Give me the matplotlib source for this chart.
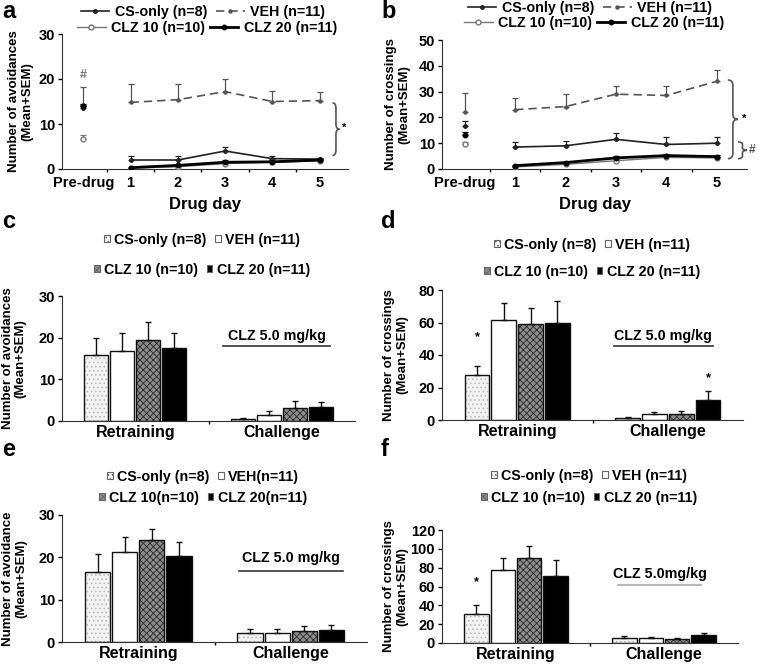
#importing dependencies
import numpy as np
import matplotlib.pyplot as plt
from matplotlib.path import Path
from matplotlib.patches import PathPatch, Patch
from matplotlib.lines import Line2D

plt.rcParams['font.family'] = ['Liberation Sans', 'DejaVu Sans']
plt.rcParams['font.weight'] = 'bold'
plt.rcParams['hatch.linewidth'] = 0.6

#Data : line panels (a, b)
day_labels = ["Pre-drug", "1", "2", "3", "4", "5"]
line_labels = ["CS-only (n=8)", "VEH (n=11)", "CLZ 10 (n=10)", "CLZ 20 (n=11)"]

a_cs = [13.5, 2.0, 2.0, 4.0, 2.3, 2.2]
a_cs_err = [0.5, 0.8, 0.8, 0.8, 0.5, 0.3]
a_veh = [14.2, 14.8, 15.4, 17.2, 15.0, 15.2]
a_veh_err = [4.0, 4.2, 3.5, 2.9, 2.4, 1.9]
a_clz10 = [6.6, 0.2, 0.5, 1.2, 1.5, 1.8]
a_clz10_err = [1.0, 0.1, 0.2, 0.3, 0.3, 0.3]
a_clz20 = [14.0, 0.3, 0.8, 1.5, 1.6, 2.0]
a_clz20_err = [0.4, 0.2, 0.2, 0.4, 0.3, 0.3]

b_cs = [16.5, 8.5, 9.0, 11.5, 9.5, 10.0]
b_cs_err = [2.0, 2.0, 2.0, 2.5, 3.0, 2.3]
b_veh = [22.0, 23.0, 24.2, 29.0, 28.5, 34.0]
b_veh_err = [7.5, 4.5, 4.8, 3.0, 3.5, 4.5]
b_clz10 = [9.8, 0.8, 1.8, 3.2, 4.5, 4.3]
b_clz10_err = [0.5, 0.3, 0.3, 0.5, 0.5, 0.5]
b_clz20 = [13.0, 1.3, 2.5, 4.3, 5.2, 4.8]
b_clz20_err = [1.5, 0.4, 0.4, 0.6, 0.5, 0.5]

#Data : bar panels (c, d, e, f)
bar_groups = ["Retraining", "Challenge"]

c_retrain = [15.8, 16.8, 19.5, 17.6]
c_retrain_err = [4.2, 4.4, 4.2, 3.6]
c_chal = [0.5, 1.4, 3.1, 3.3]
c_chal_err = [0.3, 1.0, 1.6, 1.3]

d_retrain = [27.5, 61.5, 59.0, 60.0]
d_retrain_err = [6.0, 10.5, 10.0, 13.0]
d_chal = [1.5, 3.5, 3.5, 12.5]
d_chal_err = [0.5, 1.5, 2.0, 5.5]

e_retrain = [16.6, 21.3, 24.1, 20.3]
e_retrain_err = [4.1, 3.5, 2.7, 3.3]
e_chal = [2.1, 2.1, 2.6, 2.9]
e_chal_err = [1.0, 1.0, 1.2, 1.2]

f_retrain = [31.0, 78.0, 90.0, 71.0]
f_retrain_err = [9.0, 12.0, 13.0, 17.0]
f_chal = [5.0, 5.0, 4.5, 8.0]
f_chal_err = [2.5, 1.5, 0.5, 3.0]

bar_labels_cd = ["CS-only (n=8)", "VEH (n=11)", "CLZ 10 (n=10)", "CLZ 20 (n=11)"]
bar_labels_e = ["CS-only (n=8)", "VEH(n=11)", "CLZ 10(n=10)", "CLZ 20(n=11)"]

W, H = 759, 665
fig = plt.figure(figsize=(W / 100, H / 100), dpi=100)


def box(l, t, r, b):
    return [l / W, 1 - b / H, (r - l) / W, (b - t) / H]


def brace(ax, x, y0, y1, w, h, color='#555555'):
    ym = (y0 + y1) / 2
    verts = [(x, y1), (x + w / 2, y1), (x + w / 2, y1 - h), (x + w / 2, ym + h),
             (x + w / 2, ym), (x + w, ym), (x + w / 2, ym), (x + w / 2, ym - h),
             (x + w / 2, y0 + h), (x + w / 2, y0), (x, y0)]
    codes = [Path.MOVETO, Path.CURVE3, Path.CURVE3, Path.LINETO, Path.CURVE3, Path.CURVE3,
             Path.CURVE3, Path.CURVE3, Path.LINETO, Path.CURVE3, Path.CURVE3]
    ax.add_patch(PathPatch(Path(verts, codes), fill=False, lw=1.2, ec=color, clip_on=False))


def style_axes(ax):
    ax.spines['top'].set_visible(False)
    ax.spines['right'].set_visible(False)
    ax.spines['left'].set_color('#333333')
    ax.spines['bottom'].set_color('#333333')
    ax.tick_params(axis='y', direction='out', length=3, width=1, pad=2, labelsize=10.5)
    ax.tick_params(axis='x', which='major', length=0, pad=5, labelsize=10.5)
    ax.tick_params(axis='x', which='minor', length=2, width=1)


def row_legend(handles, labels, cx, cy, **kw):
    leg = fig.legend(handles, labels, loc='center', bbox_to_anchor=(cx / W, 1 - cy / H),
                     ncol=2, frameon=False, fontsize=10.3, borderpad=0, **kw)
    return leg


#Line styles
line_styles = [
    dict(color='#222222', lw=1.2, ls='-', marker='o', ms=2.5, mfc='#222222'),
    dict(color='#555555', lw=1.2, ls=(0, (5, 3)), marker='o', ms=2.2, mfc='#555555'),
    dict(color='#777777', lw=1.0, ls='-', marker='o', ms=3.5, mfc='white'),
    dict(color='black', lw=2.0, ls='-', marker='o', ms=3.2, mfc='black'),
]


def line_panel(ax, series, errs, ymax, ystep, ylabel, labx):
    x = np.arange(len(day_labels))
    for s, e, st in zip(series, errs, line_styles):
        ax.plot(x[1:], s[1:], color=st['color'], lw=st['lw'], ls=st['ls'], marker=st['marker'],
                ms=st['ms'], mfc=st['mfc'], mec=st['color'], zorder=3)
        ax.plot(x[:1], s[:1], ls='none', marker=st['marker'], ms=st['ms'], mfc=st['mfc'],
                mec=st['color'], zorder=3)
        ax.errorbar(x, s, yerr=[np.zeros(len(e)), e], fmt='none', ecolor=st['color'],
                    elinewidth=0.9, capsize=2, capthick=0.9, zorder=2)
    ax.set_xlim(-0.45, 5.6)
    ax.set_ylim(0, ymax)
    ax.set_yticks(np.arange(0, ymax + 1, ystep))
    ax.set_xticks(x)
    ax.set_xticklabels(day_labels)
    ax.set_xticks(np.arange(0.5, 5, 1), minor=True)
    style_axes(ax)
    ax.set_xlabel("Drug day", fontsize=12, fontweight='bold', labelpad=5)
    ax.set_ylabel(ylabel, fontsize=9.5, fontweight='bold', linespacing=1.1)
    ax.yaxis.set_label_coords(labx, 0.5)


#Panel a
ax_a = fig.add_axes(box(62, 34, 348, 169))
line_panel(ax_a, [a_cs, a_veh, a_clz10, a_clz20],
           [a_cs_err, a_veh_err, a_clz10_err, a_clz20_err], 30, 10,
           "Number of avoidances\n(Mean+SEM)", -0.10)
ax_a.text(0, 20.9, "#", ha='center', va='center', fontsize=9, color='#777777')
brace(ax_a, 5.27, 3.0, 14.7, 0.15, 1.2)
ax_a.text(5.52, 9.1, "*", ha='center', va='center', fontsize=8, clip_on=False)

#Panel b
ax_b = fig.add_axes(box(442, 40, 747, 169))
line_panel(ax_b, [b_cs, b_veh, b_clz10, b_clz20],
           [b_cs_err, b_veh_err, b_clz10_err, b_clz20_err], 50, 10,
           "Number of crossings\n(Mean+SEM)", -0.105)
brace(ax_b, 5.22, 4.0, 34.5, 0.2, 2.0)
ax_b.text(5.55, 19.5, "*", ha='center', va='center', fontsize=8, clip_on=False)
brace(ax_b, 5.42, 4.0, 10.5, 0.18, 1.0)
ax_b.text(5.64, 7.2, "#", ha='left', va='center', fontsize=8.5, color='#555555', clip_on=False)

line_handles = [Line2D([], [], color=st['color'], lw=st['lw'], ls=st['ls'], marker=st['marker'],
                       ms=st['ms'], mfc=st['mfc'], mec=st['color']) for st in line_styles]
for cx, cy1, cy2 in [(203, 12, 28), (590, 8, 23)]:
    row_legend(line_handles[:2], line_labels[:2], cx, cy1, handlelength=2.0,
               handletextpad=0.4, columnspacing=0.6)
    row_legend(line_handles[2:], line_labels[2:], cx + 4, cy2, handlelength=2.0,
               handletextpad=0.4, columnspacing=0.3)

#Bar styles
bar_fc = ['#f2f2f2', 'white', '#8c8c8c', 'black']
bar_hatch = ['....', None, 'xxxxx', None]
bar_hc = ['#b8b8b8', 'white', '#2a2a2a', 'black']
spacing, width = 0.178, 0.165


def bar_panel(ax, retrain, retrain_err, chal, chal_err, ymax, ystep, ylabel, labx,
              line_y, line_x0, line_x1, text_y, clz_text, line_color='#333333'):
    centers = np.arange(len(bar_groups))
    for i in range(4):
        xs = centers + (i - 1.5) * spacing
        vals = [retrain[i], chal[i]]
        errs = [retrain_err[i], chal_err[i]]
        ax.bar(xs, vals, width, color=bar_fc[i], hatch=bar_hatch[i], edgecolor=bar_hc[i],
               lw=0, zorder=2)
        ax.bar(xs, vals, width, fill=False, edgecolor='#111111', lw=1.0, zorder=3)
        ax.errorbar(xs, vals, yerr=[[0, 0], errs], fmt='none', ecolor='#111111',
                    elinewidth=1.0, capsize=2, capthick=1.0, zorder=4)
    ax.set_xlim(-0.5, 1.5)
    ax.set_ylim(0, ymax)
    ax.set_yticks(np.arange(0, ymax + 1, ystep))
    ax.set_xticks(centers)
    ax.set_xticklabels(bar_groups)
    ax.set_xticks([0.5], minor=True)
    style_axes(ax)
    ax.tick_params(axis='x', which='major', pad=3, labelsize=11.5)
    ax.set_ylabel(ylabel, fontsize=9.5, fontweight='bold', linespacing=1.1)
    ax.yaxis.set_label_coords(labx, 0.5)
    ax.plot([line_x0, line_x1], [line_y, line_y], color=line_color, lw=1.2)
    ax.text((line_x0 + line_x1) / 2, text_y, clz_text, ha='center', va='center', fontsize=10.3)


#Panel c
ax_c = fig.add_axes(box(62, 296, 355, 421))
bar_panel(ax_c, c_retrain, c_retrain_err, c_chal, c_chal_err, 30, 10,
          "Number of avoidances\n(Mean+SEM)", -0.12, 18, 0.60, 1.33, 20.3, "CLZ 5.0 mg/kg")

#Panel d
ax_d = fig.add_axes(box(442, 290, 743, 420))
bar_panel(ax_d, d_retrain, d_retrain_err, d_chal, d_chal_err, 80, 20,
          "Number of crossings\n(Mean+SEM)", -0.113, 45.5, 0.64, 1.30, 51.5, "CLZ 5.0 mg/kg")
ax_d.text(-1.5 * spacing, 51, "*", ha='center', va='center', fontsize=9)
ax_d.text(1 + 1.5 * spacing, 25.5, "*", ha='center', va='center', fontsize=9)

#Panel e
ax_e = fig.add_axes(box(62, 515, 367, 642))
bar_panel(ax_e, e_retrain, e_retrain_err, e_chal, e_chal_err, 30, 10,
          "Number of avoidance\n(Mean+SEM)", -0.115, 16.8, 0.66, 1.34, 19.8, "CLZ 5.0 mg/kg")

#Panel f
ax_f = fig.add_axes(box(442, 530, 738, 643))
bar_panel(ax_f, f_retrain, f_retrain_err, f_chal, f_chal_err, 120, 20,
          "Number of crossings\n(Mean+SEM)", -0.115, 61.6, 0.69, 1.25, 73, "CLZ 5.0mg/kg",
          line_color='#aaaaaa')
ax_f.text(-1.5 * spacing, 65, "*", ha='center', va='center', fontsize=9)

bar_handles = [Patch(facecolor=bar_fc[i], hatch=bar_hatch[i], edgecolor='#666666', lw=0.8)
               for i in range(4)]
for labels, cx, cy1, cy2 in [(bar_labels_cd, 202, 240, 270), (bar_labels_cd, 592, 245, 272),
                             (bar_labels_e, 203, 477, 498), (bar_labels_cd, 589, 476, 498)]:
    row_legend(bar_handles[:2], labels[:2], cx, cy1, handlelength=0.4, handleheight=0.4,
               handletextpad=0.3, columnspacing=0.6)
    row_legend(bar_handles[2:], labels[2:], cx, cy2, handlelength=0.4, handleheight=0.4,
               handletextpad=0.3, columnspacing=0.6)

#Panel letters
for letter, px, py in [("a", 2, 12), ("b", 381, 12), ("c", 2, 222), ("d", 381, 222),
                       ("e", 2, 450), ("f", 381, 450)]:
    fig.text(px / W, 1 - py / H, letter, fontsize=17, fontweight='bold', ha='left', va='center')

plt.savefig("out.png", dpi=100)
